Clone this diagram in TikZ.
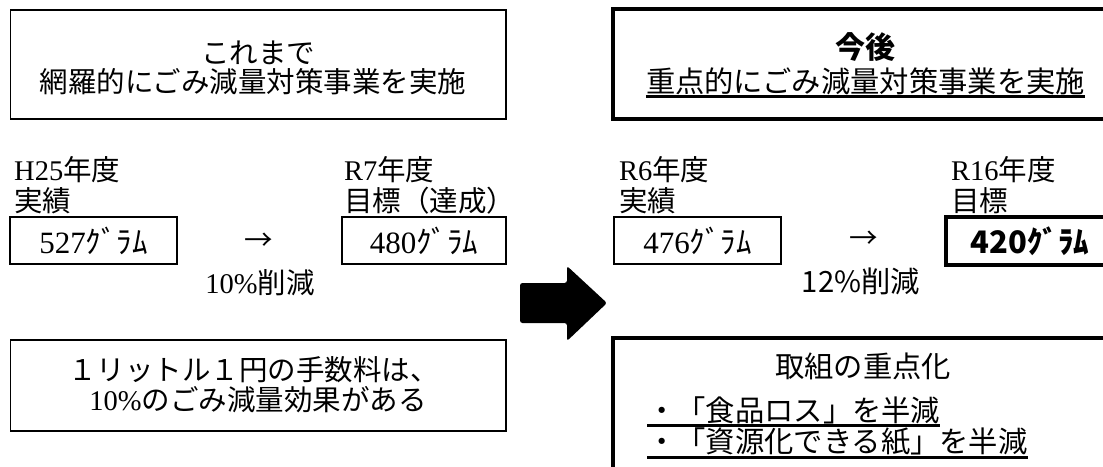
\documentclass[tikz,border=0pt]{standalone}
\usepackage{fontspec}
\setmainfont{Liberation Serif}
\newfontfamily\cjk{Noto Sans CJK JP}
\begin{document}
\begin{tikzpicture}[x=1pt,y=-1pt,
  box/.style={draw, line width=1.3pt, inner sep=0pt},
  tbox/.style={draw, line width=3.6pt, inner sep=0pt},
  txt/.style={inner sep=0pt, font=\fontsize{28.5}{30}\selectfont},
  vtxt/.style={inner sep=0pt, font=\fontsize{31}{32}\selectfont},
  gtxt/.style={inner sep=0pt, font=\cjk\fontsize{29.3}{31}\selectfont},
  ul/.style={line width=2.6pt}]
\useasboundingbox (0,0) rectangle (1103,466);
\clip (0,0) rectangle (1103,466);

% ---- top boxes
\node[box, minimum width=495.5, minimum height=109] (past) at (258.25,64.5) {};
\node[txt] (past1) at (258,53) {\cjk これまで};
\node[txt] (past2) at (253,82) {\cjk 網羅的にごみ減量対策事業を実施};

\node[tbox, minimum width=505, minimum height=110] (future) at (865.5,64) {};
\node[gtxt, font=\cjk\bfseries\fontsize{30}{31}\selectfont] (fut1) at (865,47.5) {今後};
\node[gtxt] (fut2) at (865.5,81) {重点的にごみ減量対策事業を実施};
\draw[ul] ([yshift=-2pt]fut2.south west) -- ([yshift=-2pt]fut2.south east);

% ---- labels
\node[txt, anchor=west] (l1a) at (14,170) {H25{\cjk 年度}};
\node[txt, anchor=west] (l1b) at (14,200.5) {\cjk 実績};
\node[txt, anchor=west] (l2a) at (344,170) {R7{\cjk 年度}};
\node[txt, anchor=west] (l2b) at (344,200.5) {\cjk 目標（達成）};
\node[txt, anchor=west] (l3a) at (619,170) {R6{\cjk 年度}};
\node[txt, anchor=west] (l3b) at (619,200.5) {\cjk 実績};
\node[txt, anchor=west] (l4a) at (951,170) {R16{\cjk 年度}};
\node[txt, anchor=west] (l4b) at (951,200.5) {\cjk 目標};

% ---- value boxes
\node[box, vtxt, minimum width=167, minimum height=47] (b527) at (93.5,240.5) {527{\cjk ｸﾞﾗﾑ}};
\node[box, vtxt, minimum width=164, minimum height=47] (b480) at (424,240.5) {480{\cjk ｸﾞﾗﾑ}};
\node[box, vtxt, minimum width=167, minimum height=47] (b476) at (697.5,240.5) {476{\cjk ｸﾞﾗﾑ}};
\node[tbox, gtxt, font=\cjk\bfseries\fontsize{31}{32}\selectfont, minimum width=168, minimum height=48] (b420) at (1030,241) {420ｸﾞﾗﾑ};

\node[txt] (arr1) at (259,242) {\cjk →};
\node[txt] (arr2) at (864,240) {\cjk →};
\node[txt] (red1) at (260,283) {10\%{\cjk 削減}};
\node[gtxt] (red2) at (861,281) {12\%削減};

% ---- bottom boxes
\node[box, minimum width=495.5, minimum height=91] (fee) at (258.25,385.5) {};
\node[txt] (fee1) at (253.5,370) {\cjk １リットル１円の手数料は、};
\node[txt] (fee2) at (258,400) {10\%{\cjk のごみ減量効果がある}};

\node[tbox, minimum width=505, minimum height=140] (focus) at (865.5,408) {};
\node[gtxt] (focus0) at (863,366) {取組の重点化};
\node[gtxt, anchor=west] (focus1) at (647,410) {・「食品ロス」を半減};
\node[gtxt, anchor=west] (focus2) at (647,442) {・「資源化できる紙」を半減};
\draw[ul] ([yshift=-1.5pt]focus1.south west) -- ([yshift=-1.5pt]focus1.south east);
\draw[ul] ([yshift=-1.5pt]focus2.south west) -- ([yshift=-1.5pt]focus2.south east);

% ---- big arrow
\fill[rounded corners=2.5pt] (520,283) -- (567,283) -- (567,266) -- (607,303)
  -- (567,341) -- (567,323) -- (520,323) -- cycle;
\end{tikzpicture}
\end{document}
